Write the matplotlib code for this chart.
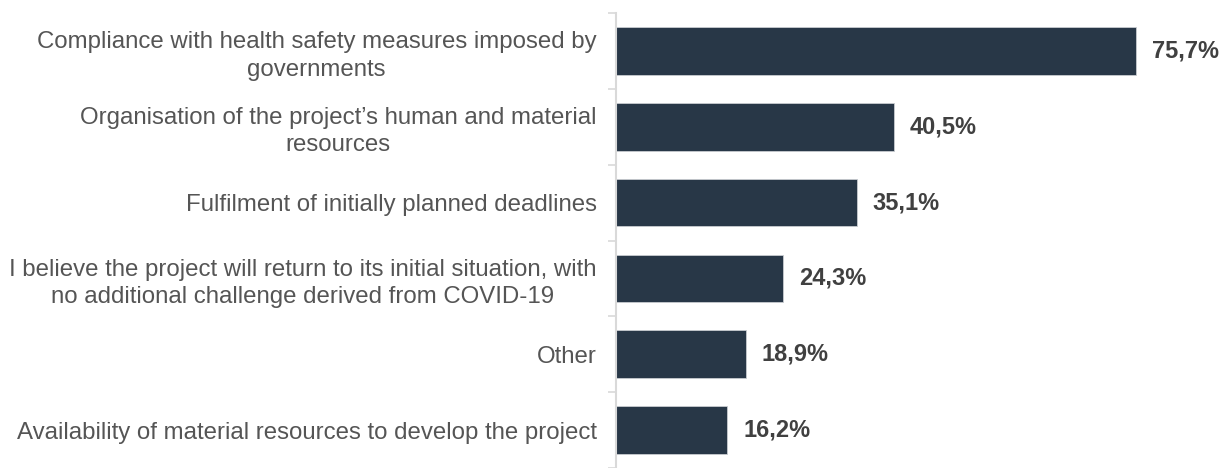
import matplotlib.pyplot as plt
import numpy as np

plt.rcParams['font.family'] = ['Liberation Sans', 'DejaVu Sans']

categories = [
    "Compliance with health safety measures imposed by\ngovernments",
    "Organisation of the project\u2019s human and material\nresources",
    "Fulfilment of initially planned deadlines",
    "I believe the project will return to its initial situation, with\nno additional challenge derived from COVID-19",
    "Other",
    "Availability of material resources to develop the project",
]
values = [75.7, 40.5, 35.1, 24.3, 18.9, 16.2]
value_labels = ["75,7%", "40,5%", "35,1%", "24,3%", "18,9%", "16,2%"]

bar_color = "#283747"
label_color = "#555555"
value_color = "#404040"

fig = plt.figure(figsize=(12.32, 4.68), dpi=100)
ax = fig.add_axes([616 / 1232, 0, 616 / 1232, 455 / 468])

y = np.arange(len(categories))
ax.barh(y, values, height=0.63, color=bar_color, edgecolor="#c8ccd0", linewidth=0.6)
ax.set_ylim(len(categories) - 0.5, -0.5)
ax.set_xlim(0, 89.7)

for yi, v, lab in zip(y, values, value_labels):
    ax.text(v + 2.3, yi, lab, va="center", ha="left", fontsize=17,
            fontweight="bold", color=value_color)

ax.set_yticks(y)
ax.set_yticklabels(categories, fontsize=17.3, color=label_color, ha="right",
                   linespacing=1.3)
for t in ax.get_yticklabels():
    t.set_multialignment("center")
ax.tick_params(axis="y", length=0, pad=14)
ax.set_yticks(np.arange(-0.5, len(categories)), minor=True)
ax.tick_params(axis="y", which="minor", length=6, color="#d9d9d9", width=1.2)
ax.set_xticks([])

for s in ["top", "right", "bottom"]:
    ax.spines[s].set_visible(False)
ax.spines["left"].set_color("#d9d9d9")
ax.spines["left"].set_linewidth(1.5)

fig.savefig("out.png", dpi=100)
